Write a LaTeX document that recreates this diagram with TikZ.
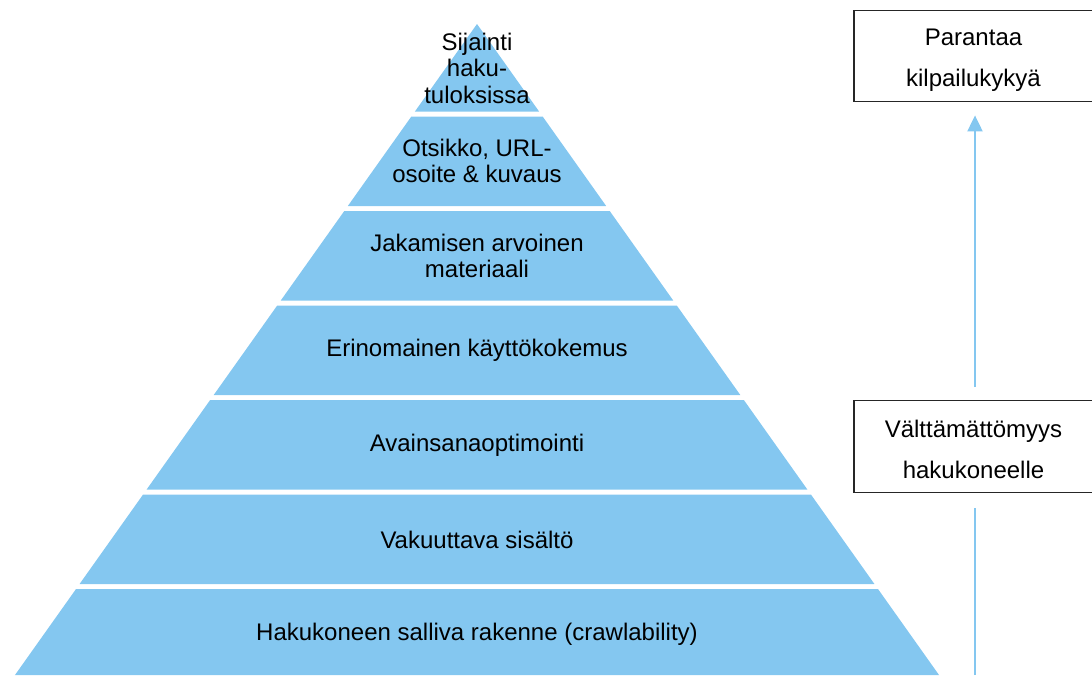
\documentclass[tikz,border=0pt]{standalone}
\usepackage{fontspec}
\setmainfont{Liberation Sans}
\usetikzlibrary{arrows.meta}
\definecolor{pyr}{RGB}{132,199,240}
\tikzset{
  layer/.style={fill=pyr},
  lbl/.style={align=center, inner sep=0pt, font=\fontsize{24}{26.5}\selectfont},
  sidebox/.style={draw=black!85, line width=1.3pt, minimum width=242pt, minimum height=91.5pt, inner sep=0pt},
  boxtext/.style={align=center, inner sep=0pt, font=\fontsize{24}{41}\selectfont},
  uparrow/.style={draw=pyr, line width=2pt, -{Triangle[width=15pt,length=16pt]}},
  plainline/.style={draw=pyr, line width=2pt}
}
\begin{document}
\begin{tikzpicture}[x=1pt,y=-1pt]
\useasboundingbox (0,0) rectangle (1092,675);
\foreach \t/\b in {24/111.5, 116.5/206, 211/300.5, 305.5/395, 400/489.5, 494.5/584, 589/675} {
  \fill[layer] ({477-0.7097*(\t-24)},\t) -- ({477+0.7097*(\t-24)},\t) -- ({477+0.7097*(\b-24)},\b) -- ({477-0.7097*(\b-24)},\b) -- cycle;
}
\node[lbl] (l1) at (477,68) {Sijainti\\haku-\\tuloksissa};
\node[lbl] (l2) at (477,161) {Otsikko, URL-\\osoite \& kuvaus};
\node[lbl] (l3) at (477,256) {Jakamisen arvoinen\\materiaali};
\node[lbl] (l4) at (477,350.5) {Erinomainen käyttökokemus};
\node[lbl] (l5) at (477,445) {Avainsanaoptimointi};
\node[lbl] (l6) at (477,539.5) {Vakuuttava sisältö};
\node[lbl] (l7) at (477,634.5) {Hakukoneen salliva rakenne (crawlability)};
\node[sidebox] (box1) at (975,56) {};
\node[boxtext] (t1) at (973.5,60) {Parantaa\\kilpailukykyä};
\node[sidebox] (box2) at (975,446.5) {};
\node[boxtext] (t2) at (973.5,449) {Välttämättömyys\\hakukoneelle};
\coordinate (ax) at (975,0);
\coordinate (bottom) at (975,675);
\draw[uparrow] ([yshift=13pt]box2.north -| ax) -- ([yshift=-13pt]box1.south -| ax);
\draw[plainline] (bottom) -- ([yshift=-15pt]box2.south -| ax);
\end{tikzpicture}
\end{document}
